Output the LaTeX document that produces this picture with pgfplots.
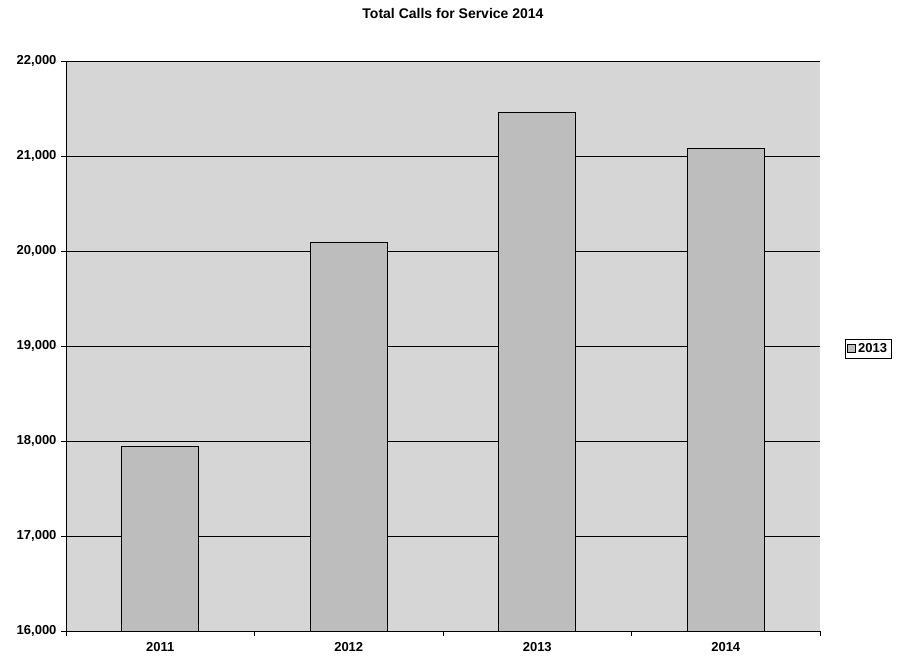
\documentclass[border=0pt]{standalone}
\usepackage{pgfplots}
\pgfplotsset{compat=1.18}
\usepackage{fontspec}
\setmainfont{Liberation Sans}
\definecolor{bgc}{HTML}{D6D6D6}
\definecolor{barc}{HTML}{BDBDBD}
\begin{document}
\begin{tikzpicture}
\path[use as bounding box] (0pt,0pt) rectangle (907pt,660pt);
\begin{axis}[
  at={(66pt,29pt)}, anchor=south west,
  scale only axis, width=754pt, height=570pt,
  ymin=16000, ymax=22000, ytick={16000,17000,...,22000},
  scaled y ticks=false,
  xmin=-0.5, xmax=3.5,
  xtick={0,1,2,3}, xticklabels={2011,2012,2013,2014},
  minor xtick={-0.5,0.5,1.5,2.5,3.5},
  major x tick style={draw=none},
  minor tick length=5pt,
  x tick style={black},
  y tick style={black},
  ytick align=outside, xtick align=outside, major tick length=5pt,
  axis x line*=bottom, axis y line*=left,
  axis line style={black, line width=0.8pt},
  ymajorgrids, grid style={black, line width=0.8pt},
  axis background/.style={fill=bgc},
  /pgf/number format/assume math mode=true,
  /pgf/number format/1000 sep={,},
  yticklabel style={/pgf/number format/fixed, xshift=-1pt},
  tick label style={font=\fontsize{13}{15}\selectfont\bfseries},
  xticklabel style={yshift=-3pt},
  ybar, bar width=77pt,
  legend style={at={(1.033,0.495)}, anchor=west, draw=black, line width=0.8pt, font=\fontsize{13}{15}\selectfont\bfseries, inner sep=2pt},
  legend image code/.code={\draw[fill=barc,draw=black,line width=0.8pt] (0pt,-4pt) rectangle (8pt,4pt);},
]
\addplot[fill=barc, draw=black, line width=0.8pt] coordinates {(0,17940) (1,20095) (2,21463) (3,21084)};
\addlegendentry{2013}
\end{axis}
\node[font=\fontsize{14}{16}\selectfont\bfseries] at (453pt,646pt) {Total Calls for Service 2014};
\end{tikzpicture}
\end{document}
